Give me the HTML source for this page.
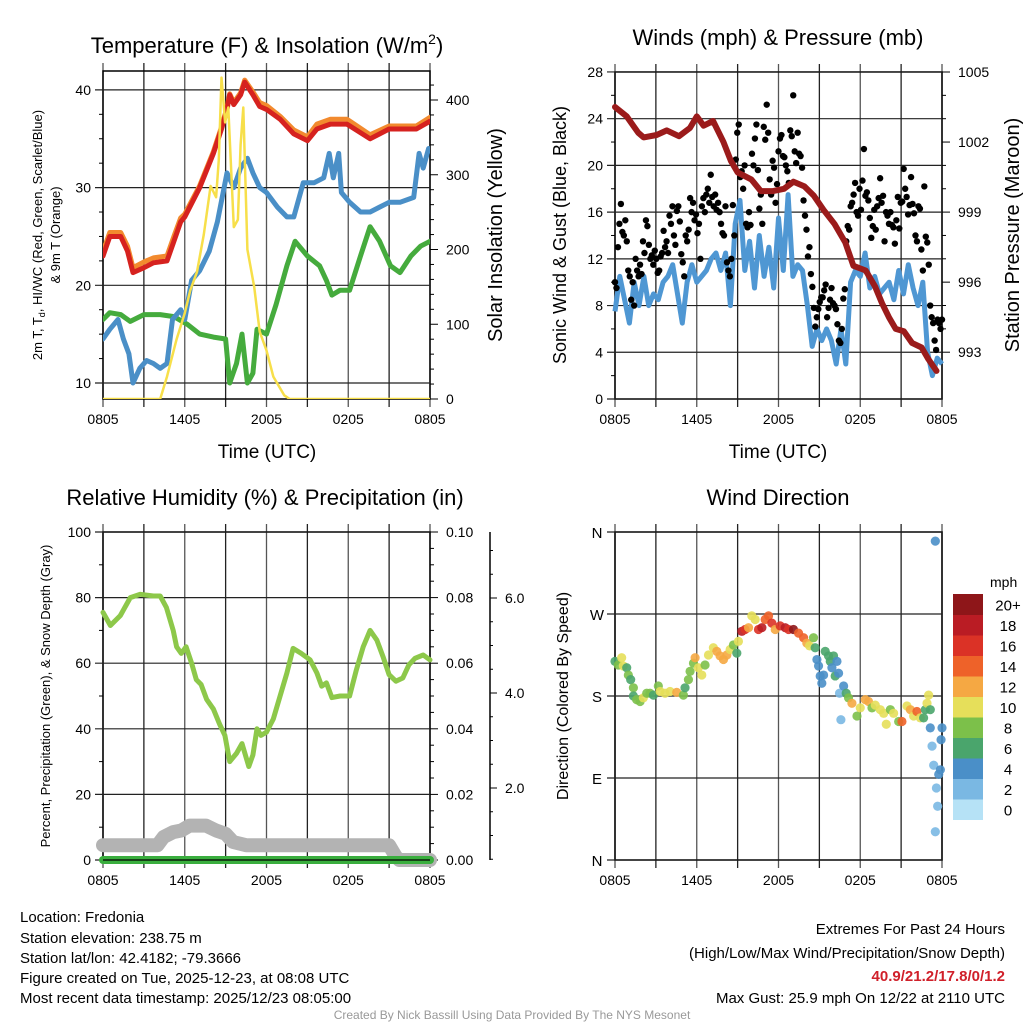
<!DOCTYPE html>
<html><head><meta charset="utf-8"><style>
html,body{margin:0;padding:0;background:#fff;}
svg{display:block;font-family:"Liberation Sans",Arial,sans-serif;}
</style></head><body>
<svg id="chart" width="1024" height="1024" viewBox="0 0 1024 1024" xmlns="http://www.w3.org/2000/svg">
<rect x="0" y="0" width="1024" height="1024" fill="#fff"/>
<g id="tl"></g>
<g id="tr"></g>
<g id="bl"></g>
<g id="br"></g>
<g font-size="22" text-anchor="middle" fill="#000">
<text x="267" y="53">Temperature (F) &amp; Insolation (W/m<tspan dy="-9" font-size="14">2</tspan><tspan dy="9">)</tspan></text>
<text x="778" y="45">Winds (mph) &amp; Pressure (mb)</text>
<text x="265" y="505">Relative Humidity (%) &amp; Precipitation (in)</text>
<text x="778" y="505">Wind Direction</text>
</g>
<g font-size="19" text-anchor="middle">
<text x="267" y="458">Time (UTC)</text>
<text x="778" y="458">Time (UTC)</text>
<text transform="translate(502,235) rotate(-90)" font-size="20">Solar Insolation (Yellow)</text>
<text transform="translate(566,235) rotate(-90)" font-size="18">Sonic Wind &amp; Gust (Blue, Black)</text>
<text transform="translate(1019,235) rotate(-90)" font-size="20">Station Pressure (Maroon)</text>
<text transform="translate(568,696) rotate(-90)" font-size="16">Direction (Colored By Speed)</text>
<text transform="translate(50,696) rotate(-90)" font-size="13">Percent, Precipitation (Green), &amp; Snow Depth (Gray)</text>
<text transform="translate(42,235) rotate(-90)" font-size="13">2m T, T<tspan font-size="9" dy="3">d</tspan><tspan dy="-3">, HI/WC (Red, Green, Scarlet/Blue)</tspan></text>
<text transform="translate(60,235) rotate(-90)" font-size="13">&amp; 9m T (Orange)</text>
</g>
<g font-size="15" fill="#000">
<text x="20" y="922">Location: Fredonia</text>
<text x="20" y="943">Station elevation: 238.75 m</text>
<text x="20" y="963">Station lat/lon: 42.4182; -79.3666</text>
<text x="20" y="983">Figure created on Tue, 2025-12-23, at 08:08 UTC</text>
<text x="20" y="1003">Most recent data timestamp: 2025/12/23 08:05:00</text>
</g>
<g font-size="15" fill="#000" text-anchor="end">
<text x="1005" y="934">Extremes For Past 24 Hours</text>
<text x="1005" y="958">(High/Low/Max Wind/Precipitation/Snow Depth)</text>
<text x="1005" y="981" fill="#d0202a" font-weight="bold">40.9/21.2/17.8/0/1.2</text>
<text x="1005" y="1003">Max Gust: 25.9 mph On 12/22 at 2110 UTC</text>
</g>
<text x="512" y="1019" font-size="12" fill="#999" text-anchor="middle">Created By Nick Bassill Using Data Provided By The NYS Mesonet</text>
</svg>
<script>
// ---- Temperature panel data ----
const redH = [0,0.5,1.3,1.8,2.2,3,3.7,4.7,5.2,5.7,6,7.1,8.1,8.7,9.1,9.3,9.6,10.1,10.4,11,11.5,12,13,14,15,15.7,16.7,17.9,19.6,21,23,24];
const redV = [23,25,25,23.5,21.3,21.8,22.3,22.5,24.5,26.5,27,30,33.5,36,38,39.5,38.5,39.5,40.8,39.5,38.3,38,37,35.5,34.8,36,36.5,36.5,35,36,36,36.8];
const orgV = [23.5,25.4,25.4,24,21.8,22.4,22.8,23,25,26.9,27.3,30.2,33.7,36.2,38.2,39.6,38.7,39.7,41,39.8,38.7,38.4,37.3,35.9,35.2,36.5,37,37,35.4,36.3,36.3,37.2];
const bluH = [0,0.5,1.1,1.5,1.9,2.2,2.7,3.2,3.7,4.2,4.7,5.1,5.7,6,6.5,7.1,7.8,8.4,9.1,9.6,10.1,10.6,11,11.5,12,12.8,13.5,14,14.7,15.5,16.2,16.6,16.9,17.3,17.5,18.1,18.9,19.6,20.3,21,21.8,22.8,23.2,23.5,23.9];
const bluV = [14.5,15.5,16.5,14.5,13,10,11.5,12.3,12,11.5,12,16.5,17.5,16.5,20.5,21.5,23.5,26.5,31.5,30,32,33,31.5,30,29.5,28,27,27,30.5,30.5,31,33.5,31,33.5,29.5,28.5,27.5,27.5,28,28.5,28.5,29,33.5,32,34];
const grnH = [0,0.5,1.3,2,3,4.2,5.2,6.2,7.1,8.1,9,9.3,9.8,10.2,10.6,11,11.3,12,12.7,13.5,14.1,15,15.9,16.4,16.8,17.4,18.1,18.9,19.6,20.3,21.1,21.8,22.6,23.3,24];
const grnV = [16.5,17.2,17,16.3,17,17,16.8,16,15,14.7,14.5,10,12,15,10,11,15.5,15,18,22,24.5,23,22,20.5,19,19.5,19.5,23,26,24.5,22,21.3,23,24,24.5];
const solH = [0,4.2,4.7,5.4,6,6.4,6.9,7.4,7.9,8.3,8.5,8.7,8.96,9.2,9.6,9.9,10.1,10.3,10.6,11.1,11.5,12,12.5,13.3,13.7,24];
const solV = [0,0,30,80,115,145,170,220,285,270,320,430,370,390,230,240,340,390,200,150,90,65,30,5,0,0];
const tempTicks = [10,20,30,40];
const solTicks = [0,100,200,300,400];
const timeLabels = ["0805","1405","2005","0205","0805"];
// ---- Wind panel data ----
const presH = [0,0.86,1.7,2.1,3.05,3.8,4.7,5.5,6,6.5,7.2,7.96,8.5,9,10,10.7,11.6,12.4,13.1,13.9,14.6,15.3,16.1,16.9,17.5,18.4,19.1,19.6,20.1,20.6,21.2,21.8,22.5,23,23.6];
const presV = [1003.5,1003.1,1002.4,1002.2,1002.3,1002.5,1002.25,1002.6,1003.1,1002.7,1002.9,1002,1001.2,1000.7,1000.4,999.9,999.9,1000,1000.3,1000.1,999.7,999.1,998.5,997.7,996.7,996.5,995.8,995.1,994.5,994,993.9,993.4,993.2,992.7,992.2];
const windV = [7.5,10.5,8.5,6.5,10,8,10.5,8,9,8.5,10,10.5,11.5,9,6.5,10,11.5,10,10.5,11,12,12.5,11,12.5,8,15,17,11,13.5,9.5,14,10.5,13,9.5,15.5,11,17.5,10.5,11.5,11,8,4.5,6,5,6,5,3,6,3,10,11,10.5,12.5,9.5,10.5,9,9.5,10,8.5,11,9,11.5,9.5,8,10,4,2,3.5,3];
const gustV = [10,9.5,13,15,16.7,14.3,14,15.3,13.5,11,10.5,8.5,10,8,12,11,10.5,11.5,10.7,13.5,12.5,15.3,14.8,13.2,12,12.3,11.5,12.7,12,10.8,11,12.2,12.5,14.4,13,13.5,12.5,15.7,15,16.5,14,13.2,16.1,16.5,15.2,12.4,11.7,10.5,14,13.5,14.5,17.2,16,16.8,15.3,15.8,14.2,15,12,16.5,17.2,16,17.5,18,16.8,19.2,17.3,16.5,17.5,16.2,16.8,16,15,14.2,14,16.5,11.7,11,10.5,12,16.6,14,20.5,22.8,23.5,19,19.5,18,20,15,14.7,16,14.9,21,20,22.3,23.5,19.6,16.3,17.5,15,23.3,22.2,25.2,22.8,18.8,17.5,20.4,19.8,16.8,18.4,21.2,22.3,22.6,20.8,20.7,20,19.5,18.5,23,22.5,26,21.2,20.2,22.8,21,20.8,19.8,17,15.7,14.5,12.2,13,10.7,9.6,7.8,6.2,7,7.7,8.3,8.7,8.7,9.3,9.8,7,7.8,8.5,9.5,8.2,8,7.7,6.4,5,4.8,6,8.6,9.4,13.5,14.8,14.5,16.5,16.8,17.5,18.5,16,15.7,18,16.2,18.7,21.4,17.4,17.7,17,15.5,13.8,14.8,16.2,14.5,16.5,17.2,18.9,16.8,17.4,13.5,16,15.7,15,16,14.9,14.7,13.3,15.3,17.3,14.6,16.8,16.9,19.7,18,17.3,15.8,16.6,19,16.7,15.9,14,13.5,16.5,16.3,12.8,11,18.2,13.9,13.4,11.5,8,7,6.5,5,4.2,6.8,6.5,6,6.8];
const windTicks = [0,4,8,12,16,20,24,28];
const presTicks = [993,996,999,1002,1005];
// ---- Humidity panel data ----
const rhH = [0,0.54,1.27,2,2.74,3.7,4.2,4.65,5.15,5.4,5.75,6.1,6.5,6.85,7.2,7.6,8.1,8.55,8.95,9.3,9.8,10.2,10.7,11,11.3,11.6,12,12.5,13,13.5,13.95,14.55,15.2,15.7,16.05,16.4,16.8,17.4,18.1,18.6,19.1,19.6,20.1,20.55,21,21.5,22,22.45,22.9,23.5,24];
const rhV = [75.5,71.5,74.5,80,81,80.5,80.5,77,70,65,63,65,60,55,53.5,49,46,41.5,38,30,32.5,35.5,28.5,32,40,38,39,43,50,57,64.5,63,61,57,53,54,49.5,50,50,58,65,70,67,62,56.5,54.5,55.5,59.5,61.5,62.5,61];
const snowH = [0,4,4.45,5.15,5.75,6.35,7.1,7.55,8.3,9,9.55,10.5,21,21.5,21.75,24];
const snowV = [4.5,4.5,7,8.5,9,10.5,10.5,10.5,9,8,5.5,4.5,4.5,1,0,0];
const precipH = [0,24];
const precipV = [0,0];
const rhTicks = [0,20,40,60,80,100];
const precipTicks = ["0.00","0.02","0.04","0.06","0.08","0.10"];
const snowTicks = ["2.0","4.0","6.0"];
// ---- Wind direction data ----
const dirH = [0,0.24,0.49,0.61,0.86,0.98,1.15,1.35,1.35,1.59,1.84,2.08,2.33,2.57,2.82,3.18,3.31,3.67,4.04,4.53,5.02,5.14,5.39,5.51,5.76,5.88,6.12,6.37,6.61,6.86,7.22,7.47,7.71,7.96,8.21,8.45,8.69,8.94,9.06,9.31,9.55,9.8,10.04,10.29,10.53,10.78,11.02,11.27,11.51,11.76,12.12,12.49,12.74,13.1,13.47,13.84,14.08,14.28,14.57,14.69,14.82,14.94,15.06,15.18,15.31,15.43,15.67,15.8,15.92,16.04,16.16,16.29,16.41,16.48,16.58,16.78,16.97,17.14,17.39,17.76,18.0,18.37,18.61,18.86,19.1,19.47,19.72,19.91,20.21,20.45,20.82,21.06,21.43,21.68,21.92,22.16,22.41,22.65,22.78,22.9,23.02,23.14,23.14,23.27,23.39,23.51,23.59,23.68,23.51,23.76,23.88,23.93,24];
const dirV = [218,214,222,213,211,203,198,189,180,176,174,178,183,183,181,191,185,183,185,184,181,189,198,207,216,222,211,203,214,225,233,229,224,220,225,231,236,227,240,251,253,255,268,264,253,255,264,268,260,253,257,255,253,253,249,244,238,235,244,233,220,213,202,194,203,229,224,218,211,224,202,218,205,183,154,191,183,178,172,158,167,176,174,167,170,165,161,149,165,161,152,152,169,165,158,163,156,156,165,172,181,165,145,125,104,350,79,59,31,94,99,132,145];
const spdV = [6,8,10,10,6,8,6,8,6,8,8,10,8,8,6,8,10,10,10,12,8,6,8,8,8,12,10,10,8,10,10,12,12,12,12,10,8,6,10,18,16,12,10,10,16,18,14,14,16,12,16,18,16,20,14,14,12,10,8,6,4,4,4,4,4,6,6,6,4,6,6,4,4,2,2,4,6,8,12,8,10,12,12,8,10,10,10,10,8,10,8,14,10,12,10,14,10,6,6,10,10,6,4,2,2,4,2,2,2,4,4,4,4];
const dirTicks = [0,90,180,270,360];
const dirLabels = ["N","E","S","W","N"];
const speedBins = ["0","2","4","6","8","10","12","14","16","18","20+"];
const speedColors = ["#b6e2f6","#7ab8e3","#4a8fc8","#4aa56c","#7cc04a","#e6df5a","#f5a843","#ee6229","#db3226","#ba1c24","#8e1619"];

const NS = "http://www.w3.org/2000/svg";
function el(tag, attrs, parent){ const e=document.createElementNS(NS,tag); for(const k in attrs) e.setAttribute(k,attrs[k]); parent.appendChild(e); return e; }
function txt(s, attrs, parent){ const e=el('text',attrs,parent); e.textContent=s; return e; }
function path(xs, ys){ return xs.map((x,i)=>(i?'L':'M')+x.toFixed(1)+','+ys[i].toFixed(1)).join(''); }

function frame(g, P, name){
  for(let i=0;i<=8;i++){
    const x=P.x0+i*(P.x1-P.x0)/8;
    const l=el('line',{x1:x,x2:x,y1:P.y0-8,y2:P.y1+8,stroke:i%2?'#222':'#555','stroke-width':1.3},g);
    
    
  }
  for(let i=0;i<timeLabels.length;i++){
    const t=txt(timeLabels[i],{x:P.x0+i*(P.x1-P.x0)/4,y:P.y1+25,'font-size':14,'text-anchor':'middle'},g);
    
    
  }
  const r=el('rect',{x:P.x0,y:P.y0,width:P.x1-P.x0,height:P.y1-P.y0,fill:'none',stroke:'#000','stroke-width':1.5},g);
  
  
}
function hgrid(g,P,vals,ys,labels,name,leftTickLen){
  vals.forEach((v,i)=>{
    const y=ys(v);
    const l=el('line',{x1:P.x0-leftTickLen,x2:P.x1,y1:y,y2:y,stroke:'#222','stroke-width':1.2},g);
    
    
    if(labels){
      const t=txt(labels[i],{x:P.x0-leftTickLen-4,y:y+5,'font-size':14,'text-anchor':'end'},g);
      
      
    }
  });
}
function hx(P){ return h=>P.x0+h*(P.x1-P.x0)/24; }

// ===== Top-left =====
(function(){
  const g=document.getElementById('tl');
  const P={x0:103,x1:430,y0:71,y1:399};
  const X=hx(P);
  const Y=v=>383-(v-10)*9.77;
  const Y2=v=>399-v*0.7475;
  frame(g,P,'temp');
  hgrid(g,P,tempTicks,Y,tempTicks.map(String),'temp',8);
  for(let v=12.5;v<=42;v+=2.5){ if(v%10) el('line',{x1:P.x0-4,x2:P.x0,y1:Y(v),y2:Y(v),stroke:'#000'},g); }
  for(let v=0;v<=430;v+=20){ el('line',{x1:P.x1,x2:P.x1+(v%100?4:8),y1:Y2(v),y2:Y2(v),stroke:'#000'},g); }
  solTicks.forEach(v=>{ const t=txt(String(v),{x:P.x1+16,y:Y2(v)+5,'font-size':14},g);
    
     });
  const cp=el('clipPath',{id:'ctl'},g); el('rect',{x:P.x0,y:P.y0-6,width:P.x1-P.x0,height:P.y1-P.y0+6},cp);
  const series=[[grnH,grnV,'#45ab3d',5,Y,'dewpoint-line'],[bluH,bluV,'#4a8fc7',5,Y,'windchill-line'],[redH,orgV,'#f28a2e',5,Y,'temp-9m-line'],[redH,redV,'#d6221f',5,Y,'temp-2m-line'],[solH,solV,'#f7df4a',2.5,Y2,'insolation-line']];
  series.forEach(s=>{
    const p=el('path',{d:path(s[0].map(X),s[1].map(s[4])),fill:'none',stroke:s[2],'stroke-width':s[3],'stroke-linejoin':'round','stroke-linecap':'round','clip-path':'url(#ctl)'},g);
    
    
  });
})();

// ===== Top-right =====
(function(){
  const g=document.getElementById('tr');
  const P={x0:615,x1:942,y0:72,y1:399};
  const X=hx(P);
  const Y=v=>399-v*11.68;
  const Y2=v=>72+(1005-v)*23.35;
  frame(g,P,'wind');
  hgrid(g,P,windTicks,Y,windTicks.map(String),'wind',8);
  for(let v=2;v<28;v+=4) el('line',{x1:P.x0-4,x2:P.x0,y1:Y(v),y2:Y(v),stroke:'#000'},g);
  for(let v=993;v<=1005;v+=1){ el('line',{x1:P.x1,x2:P.x1+((v-993)%3?4:8),y1:Y2(v),y2:Y2(v),stroke:'#000'},g); }
  presTicks.forEach(v=>{ const t=txt(String(v),{x:P.x1+16,y:Y2(v)+5,'font-size':14},g);
    
     });
  const wx=windV.map((v,i)=>X(i*24/(windV.length-1)));
  const wl=el('path',{d:path(wx,windV.map(Y)),fill:'none',stroke:'#4f97d3','stroke-width':5,'stroke-linejoin':'round'},g);
  
  
  gustV.forEach((v,i)=>{
    const c=el('circle',{cx:X(i*24/(gustV.length-1)),cy:Y(v),r:3.2,fill:'#000'},g);
    
    
  });
  const pl=el('path',{d:path(presH.map(X),presV.map(Y2)),fill:'none',stroke:'#9b1b1b','stroke-width':6,'stroke-linejoin':'round','stroke-linecap':'round'},g);
  
  
})();

// ===== Bottom-left =====
(function(){
  const g=document.getElementById('bl');
  const P={x0:103,x1:430,y0:532,y1:860};
  const X=hx(P);
  const Y=v=>860-v*3.28;
  frame(g,P,'rh');
  hgrid(g,P,rhTicks,Y,rhTicks.map(String),'rh',8);
  for(let v=10;v<100;v+=20) el('line',{x1:P.x0-4,x2:P.x0,y1:Y(v),y2:Y(v),stroke:'#000'},g);
  for(let v=0;v<=100;v+=5){ el('line',{x1:P.x1,x2:P.x1+(v%20?4:8),y1:Y(v),y2:Y(v),stroke:'#000'},g); }
  precipTicks.forEach((s,i)=>{ const t=txt(s,{x:P.x1+16,y:Y(i*20)+5,'font-size':14},g);
    
     });
  el('line',{x1:490,x2:490,y1:532,y2:860,stroke:'#000','stroke-width':1.5},g);
  const SY=v=>883-v*47.5;
  for(let v=0.5;v<=7.5;v+=0.5){ const y=SY(v); if(y>=532&&y<=860) el('line',{x1:490,x2:490+(v%2?3:7),y1:y,y2:y,stroke:'#000'},g); }
  snowTicks.forEach(s=>{ const t=txt(s,{x:505,y:SY(parseFloat(s))+5,'font-size':14},g);
    
     });
  const sn=el('path',{d:path(snowH.map(X),snowV.map(Y)),fill:'none',stroke:'#b3b3b3','stroke-width':14,'stroke-linejoin':'round','stroke-linecap':'round'},g);
  
  
  const pr=el('path',{d:path(precipH.map(X),precipV.map(Y)),fill:'none',stroke:'#3aae3e','stroke-width':8,'stroke-linecap':'round'},g);
  
  
  el('line',{x1:P.x0,x2:P.x1,y1:860,y2:860,stroke:'#000','stroke-width':1.2},g);
  const rl=el('path',{d:path(rhH.map(X),rhV.map(Y)),fill:'none',stroke:'#8dc84a','stroke-width':5,'stroke-linejoin':'round','stroke-linecap':'round'},g);
  
  
})();

// ===== Bottom-right =====
(function(){
  const g=document.getElementById('br');
  const P={x0:615,x1:942,y0:532,y1:860};
  const X=hx(P);
  const Y=d=>860-d*0.9111;
  frame(g,P,'dir');
  hgrid(g,P,dirTicks,Y,null,'dir',8);
  dirTicks.forEach((d,i)=>{ const t=txt(dirLabels[i],{x:597,y:Y(d)+6,'font-size':15,'text-anchor':'middle'},g);
    
     });
  dirV.forEach((d,i)=>{
    const b=Math.min(10,Math.floor(spdV[i]/2));
    const c=el('circle',{cx:X(dirH[i]),cy:Y(d),r:4.6,fill:speedColors[b],'fill-opacity':0.9},g);
    
    
  });
  const lg=el('g',{},g);
  
  
  txt('mph',{x:990,y:587,'font-size':14,'text-anchor':'start'},lg);
  const top=594, h=20.5;
  for(let i=0;i<11;i++){
    const y=top+(10-i)*h;
    el('rect',{x:953,y:y,width:30,height:h+0.5,fill:speedColors[i]},lg);
    const t=txt(speedBins[i],{x:1008,y:y+h/2+6,'font-size':15,'text-anchor':'middle'},lg);
    
    
  }
})();
</script>
</body></html>
